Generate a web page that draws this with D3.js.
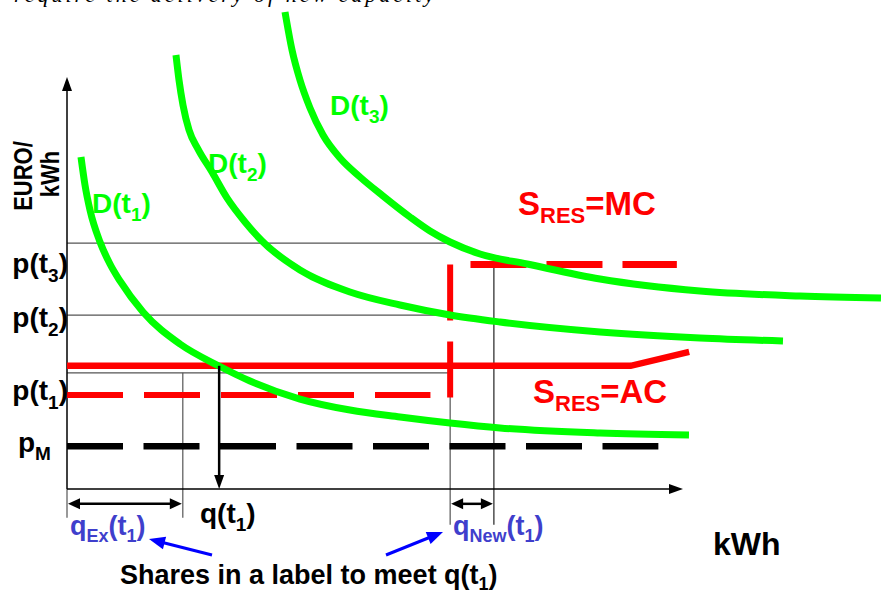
<!DOCTYPE html>
<html><head><meta charset="utf-8">
<script src="https://cdn.jsdelivr.net/npm/d3@7"></script>
<style>html,body{margin:0;padding:0;background:#fff;overflow:hidden;} svg{display:block;}</style>
</head><body><svg id="c" width="881" height="594"></svg>
<script>
// ---- data (abstract units: quantity 0..10, price 0..10) ----
const demandT1 = [[0.227,8.058],[0.292,7.379],[0.373,6.772],[0.536,5.995],[0.698,5.461],[0.860,5.049],[1.234,4.296],[1.834,3.519],[2.468,2.985],[2.971,2.621],[3.782,2.184],[4.594,1.917],[5.406,1.748],[6.218,1.602],[7.029,1.481],[8.653,1.359],[10.097,1.311]];
const demandT2 = [[1.769,10.534],[1.818,9.927],[1.883,9.320],[1.981,8.714],[2.127,8.252],[2.354,7.694],[2.597,7.066],[2.890,6.481],[3.166,6.019],[3.782,5.316],[4.594,4.782],[5.406,4.466],[6.218,4.223],[7.029,4.053],[8.653,3.811],[10.276,3.665],[11.623,3.592]];
const demandT3 = [[3.539,11.578],[3.653,10.655],[3.782,9.927],[3.945,9.248],[4.156,8.592],[4.432,8.034],[4.756,7.573],[5.130,7.112],[5.568,6.602],[5.893,6.262],[6.218,5.995],[6.705,5.704],[7.468,5.461],[8.653,5.097],[10.276,4.806],[11.899,4.684],[13.214,4.636]];
const supplyAC = [[0,2.99],[9.15,2.99],[10.1,3.33]];
const supplyMC = [[6.55,5.45],[9.9,5.45]];
const supplyMCstep = [[6.22,5.45],[6.22,2.2]];
const priceP1 = [[0,2.28],[5.9,2.28]];
const priceM = [[0,1.04],[9.6,1.04]];
const priceGuides = [5.97, 4.22, 2.82];      // p(t3), p(t2), p(t1) guide lines
const guideEndQ = 6.22;
const qEx = 1.88, qT1 = 2.47, qTotal = 6.22, qNewEnd = 6.93;
const yTickValues = [5.44, 4.13, 2.35, 1.09];
const yTickMain = ["p(t", "p(t", "p(t", "p"];
const yTickSub = ["3", "2", "1", "M"];
const yTickClose = [")", ")", ")", ""];

const FONT = "'Liberation Sans', Arial, Helvetica, sans-serif";
const GREEN = "#00ff00", RED = "#ff0000", BLUE_T = "#3f3fcc", BLUE = "#0000ff";

const svg = d3.select("#c");
const x = d3.scaleLinear().domain([0, 10]).range([67, 683]);
const y = d3.scaleLinear().domain([0, 10]).range([489, 77]);
const lineS = d3.line().x(d => x(d[0])).y(d => y(d[1]));
const lineC = d3.line().x(d => x(d[0])).y(d => y(d[1])).curve(d3.curveMonotoneX);

function arrowHead(tx, ty, ang, len, wid, color) {
  const bx = tx - len * Math.cos(ang), by = ty - len * Math.sin(ang);
  const nx = -Math.sin(ang) * wid / 2, ny = Math.cos(ang) * wid / 2;
  svg.append("path").attr("d", `M${tx},${ty}L${bx + nx},${by + ny}L${bx - nx},${by - ny}Z`).attr("fill", color);
}
function rich(xp, yp, parts, size, subSize, subShift, color, anchor) {
  const t = svg.append("text").attr("x", xp).attr("y", yp)
    .attr("font-family", FONT).attr("font-weight", "bold").attr("font-size", size)
    .attr("fill", color).attr("text-anchor", anchor || "start");
  let shifted = 0;
  parts.forEach(([s, sub]) => {
    const ts = t.append("tspan").text(s);
    if (sub) { ts.attr("font-size", subSize).attr("dy", subShift - shifted); shifted = subShift; }
    else { ts.attr("dy", -shifted); shifted = 0; }
  });
  return t;
}

// top cut-off caption
svg.append("text").attr("x", 14).attr("y", 2).attr("font-family", "'Liberation Serif', 'Times New Roman', serif")
  .attr("font-style", "italic").attr("font-size", 22).attr("fill", "#000")
  .attr("textLength", 420).attr("lengthAdjust", "spacing")
  .text("require the delivery of new capacity");

// thin guide lines
priceGuides.forEach(p => {
  svg.append("line").attr("x1", x(0)).attr("x2", x(guideEndQ)).attr("y1", y(p)).attr("y2", y(p))
    .attr("stroke", "#555").attr("stroke-width", 1.2);
});
const vGuides = [[qEx, 2.82, -0.7, "#555"], [qTotal, 2.82, -0.87, "#555"], [qNewEnd, 5.45, -0.87, "#222"], [0, 0, -0.7, "#555"]];
vGuides.forEach(([q, a, b, c]) => {
  svg.append("line").attr("x1", x(q)).attr("x2", x(q)).attr("y1", y(a)).attr("y2", y(b))
    .attr("stroke", c).attr("stroke-width", 1.2);
});

// axes
svg.append("line").attr("x1", x(0)).attr("x2", x(0)).attr("y1", y(0)).attr("y2", y(10) + 12).attr("stroke", "#000").attr("stroke-width", 1.5);
arrowHead(x(0), y(10), -Math.PI / 2, 14, 10, "#000");
svg.append("line").attr("x1", x(0)).attr("x2", x(10) - 12).attr("y1", y(0)).attr("y2", y(0)).attr("stroke", "#000").attr("stroke-width", 1.5);
arrowHead(x(10), y(0), 0, 14, 10, "#000");

// dashed price lines
svg.append("path").attr("d", lineS(priceM)).attr("fill", "none").attr("stroke", "#000").attr("stroke-width", 6.5).attr("stroke-dasharray", "56,20.5");
svg.append("path").attr("d", lineS(priceP1)).attr("fill", "none").attr("stroke", RED).attr("stroke-width", 6).attr("stroke-dasharray", "56,21");

// supply
svg.append("path").attr("d", lineS(supplyAC)).attr("fill", "none").attr("stroke", RED).attr("stroke-width", 6.5);
svg.append("path").attr("d", lineS(supplyMC)).attr("fill", "none").attr("stroke", RED).attr("stroke-width", 7).attr("stroke-dasharray", "56,20");
svg.append("path").attr("d", lineS(supplyMCstep)).attr("fill", "none").attr("stroke", RED).attr("stroke-width", 6).attr("stroke-dasharray", "56,21");

// demand curves
[demandT1, demandT2, demandT3].forEach(d => {
  svg.append("path").attr("d", lineC(d)).attr("fill", "none").attr("stroke", GREEN).attr("stroke-width", 7);
});

// q(t1) arrow
svg.append("line").attr("x1", x(qT1)).attr("x2", x(qT1)).attr("y1", y(2.99)).attr("y2", y(0) - 10).attr("stroke", "#000").attr("stroke-width", 2.5);
arrowHead(x(qT1), y(0), Math.PI / 2, 14, 10, "#000");

// double arrows
const dblY = y(-0.36);
[[0, qEx], [qTotal, qNewEnd]].forEach(([a, b]) => {
  svg.append("line").attr("x1", x(a) + 8).attr("x2", x(b) - 8).attr("y1", dblY).attr("y2", dblY).attr("stroke", "#000").attr("stroke-width", 2.5);
  arrowHead(x(a) + 1, dblY, Math.PI, 12, 11, "#000");
  arrowHead(x(b) - 1, dblY, 0, 12, 11, "#000");
});

// y tick labels
yTickValues.forEach((v, i) => {
  if (yTickMain[i] === "p") {
    rich(18, y(v) + 8, [["p", false], [yTickSub[i], true]], 28, 19, 8, "#000");
  } else {
    rich(68, y(v) + 8, [[yTickMain[i], false], [yTickSub[i], true], [yTickClose[i], false]], 28, 19, 9, "#000", "end");
  }
});

// axis title (rotated)
svg.append("text").attr("transform", "translate(32,176) rotate(-90) scale(1,1.2)").attr("text-anchor", "middle")
  .attr("font-family", FONT).attr("font-weight", "bold").attr("font-size", 22).attr("fill", "#000").text("EURO/");
svg.append("text").attr("transform", "translate(59,174) rotate(-90) scale(1,1.2)").attr("text-anchor", "middle")
  .attr("font-family", FONT).attr("font-weight", "bold").attr("font-size", 22).attr("fill", "#000").text("kWh");
rich(713, 555, [["kWh", false]], 32, 22, 8, "#000");

// curve labels
rich(92, 213, [["D(t", false], ["1", true], [")", false]], 28, 19, 8, GREEN);
rich(208, 173, [["D(t", false], ["2", true], [")", false]], 28, 19, 8, GREEN);
rich(330, 115, [["D(t", false], ["3", true], [")", false]], 28, 19, 8, GREEN);
rich(518, 215, [["S", false], ["RES", true], ["=MC", false]], 33, 22, 8, RED);
rich(533, 403, [["S", false], ["RES", true], ["=AC", false]], 33, 22, 8, RED);

// quantity labels
rich(200, 523, [["q(t", false], ["1", true], [")", false]], 28, 19, 8, "#000");
rich(70, 535, [["q", false], ["Ex", true], ["(t", false], ["1", true], [")", false]], 27, 18, 7, BLUE_T);
rich(453, 535, [["q", false], ["New", true], ["(t", false], ["1", true], [")", false]], 27, 18, 7, BLUE_T);

// note with blue arrows
rich(120, 584, [["Shares in a label to meet q(t", false], ["1", true], [")", false]], 27, 18, 6, "#000");
function blueArrow(x1, y1, x2, y2) {
  const ang = Math.atan2(y2 - y1, x2 - x1);
  svg.append("line").attr("x1", x1).attr("y1", y1).attr("x2", x2 - 12 * Math.cos(ang)).attr("y2", y2 - 12 * Math.sin(ang))
    .attr("stroke", BLUE).attr("stroke-width", 3);
  arrowHead(x2, y2, ang, 16, 13, BLUE);
}
blueArrow(212, 555, 149, 539);
blueArrow(386, 555, 443, 532);
</script></body></html>
